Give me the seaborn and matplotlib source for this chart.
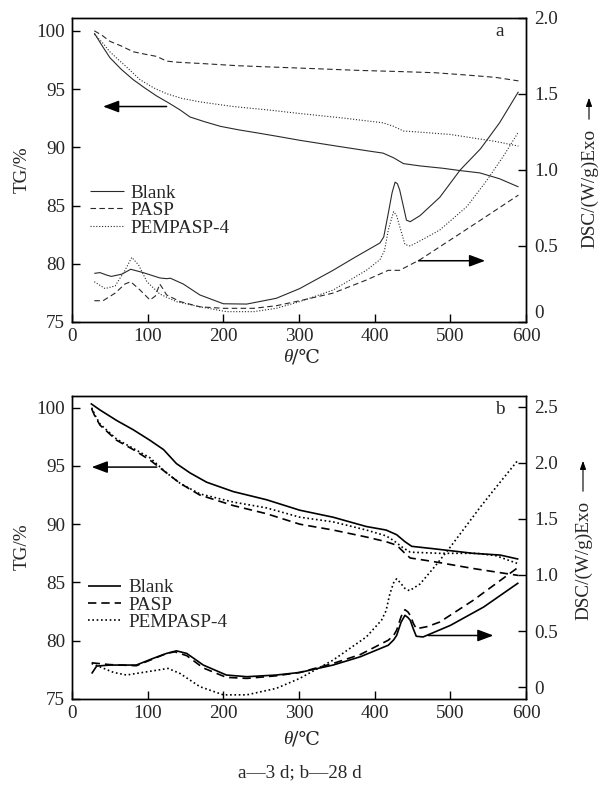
import matplotlib
matplotlib.use("Agg")
import matplotlib.pyplot as plt
import seaborn as sns

# ---- panel a (3 d) ----
# TG curves (left axis, %)
blank_tg_t_a = [29.5, 40, 50, 65, 81, 96, 112, 128, 143, 156, 175, 196, 220, 248, 275, 301,
                350, 390, 411, 425, 438, 460, 490, 513, 539, 565, 590]
blank_tg_a = [99.8, 98.7, 97.7, 96.7, 95.8, 95.1, 94.4, 93.8, 93.2, 92.6, 92.2, 91.8, 91.5, 91.2, 90.9, 90.6,
              90.1, 89.7, 89.5, 89.1, 88.6, 88.4, 88.2, 88.0, 87.8, 87.3, 86.6]
pasp_tg_t_a = [29.5, 40, 50, 65, 81, 96, 112, 125, 140, 169, 220, 301, 380, 434, 480, 522, 560, 590]
pasp_tg_a = [100.0, 99.6, 99.1, 98.7, 98.2, 98.0, 97.8, 97.4, 97.3, 97.2, 97.0, 96.8, 96.6, 96.5, 96.4, 96.2,
             96.0, 95.7]
pem_tg_t_a = [29.5, 40, 50, 60, 72, 90, 108, 125, 145, 169, 213, 260, 301, 360, 411, 425, 438, 460, 500,
              530, 560, 590]
pem_tg_a = [99.7, 99.0, 98.2, 97.6, 96.9, 95.8, 95.1, 94.6, 94.2, 93.9, 93.5, 93.2, 92.9, 92.5, 92.1, 91.8,
            91.4, 91.3, 91.1, 90.8, 90.5, 90.1]

# DSC curves (right axis, W/g)
blank_dsc_t_a = [29.5, 37, 45, 52, 66, 77.6, 94, 116, 125, 130, 147, 169, 200, 231, 270, 301, 345, 372,
                 407, 412, 418, 423, 427, 430, 433, 438, 442, 447, 460, 486, 513, 540, 565, 590]
blank_dsc_a = [0.32, 0.325, 0.31, 0.30, 0.315, 0.347, 0.325, 0.29, 0.285, 0.288, 0.25, 0.178, 0.12, 0.118,
               0.156, 0.22, 0.34, 0.42, 0.52, 0.56, 0.715, 0.85, 0.92, 0.91, 0.87, 0.76, 0.67, 0.66, 0.70,
               0.82, 1.0, 1.14, 1.31, 1.515]
pasp_dsc_t_a = [29.5, 41, 57, 70, 77.6, 90, 103, 110, 116, 120, 125, 143, 169, 200, 240, 270, 301, 345,
                389, 418, 433, 460, 500, 543, 590]
pasp_dsc_a = [0.14, 0.14, 0.19, 0.25, 0.265, 0.21, 0.145, 0.17, 0.25, 0.22, 0.178, 0.134, 0.10, 0.09, 0.09,
              0.107, 0.14, 0.19, 0.276, 0.34, 0.34, 0.41, 0.54, 0.68, 0.835]
pem_dsc_t_a = [29.5, 43.6, 57, 70, 79, 88, 99, 116, 138, 169, 204, 240, 270, 301, 345, 389, 407, 413, 418,
               425, 429, 433, 440, 447, 466, 486, 522, 548, 570, 590]
pem_dsc_a = [0.265, 0.22, 0.237, 0.34, 0.425, 0.375, 0.265, 0.184, 0.134, 0.10, 0.068, 0.068, 0.09, 0.134,
             0.21, 0.34, 0.41, 0.47, 0.605, 0.726, 0.70, 0.63, 0.51, 0.50, 0.55, 0.605, 0.76, 0.93, 1.09, 1.25]

# ---- panel b (28 d) ----
blank_tg_t_b = [24.7, 37, 59, 81, 103, 121, 138, 156, 178, 213, 257, 301, 345, 389, 415, 429, 440, 449,
                477, 530, 566, 590]
blank_tg_b = [100.36, 99.8, 98.9, 98.1, 97.2, 96.4, 95.2, 94.4, 93.6, 92.8, 92.1, 91.2, 90.6, 89.8, 89.5,
              89.1, 88.5, 88.1, 87.9, 87.5, 87.35, 87.0]
pasp_tg_t_b = [26, 30, 37, 59, 81, 103, 125, 143, 169, 213, 257, 301, 345, 389, 415, 429, 440, 447, 477,
               530, 590]
pasp_tg_b = [99.9, 99.3, 98.5, 97.2, 96.4, 95.5, 94.4, 93.5, 92.5, 91.6, 90.9, 90.0, 89.5, 88.9, 88.5,
             88.2, 87.5, 87.1, 86.8, 86.2, 85.6]
pem_tg_t_b = [26, 30, 37, 59, 81, 103, 125, 143, 169, 213, 257, 301, 345, 389, 415, 425, 437, 447, 486,
              535, 560, 590]
pem_tg_b = [100.0, 99.4, 98.6, 97.3, 96.5, 95.7, 94.4, 93.5, 92.6, 91.9, 91.4, 90.6, 90.2, 89.5, 89.0,
            88.6, 88.0, 87.6, 87.5, 87.5, 87.3, 86.6]

blank_dsc_t_b = [26, 32.6, 50, 85, 107, 125, 138, 151.6, 173.5, 204, 231, 270, 301, 345, 381, 418, 425,
                 429, 435, 440, 444, 447, 451, 455, 464, 500, 544, 590]
blank_dsc_b = [0.12, 0.187, 0.196, 0.196, 0.255, 0.30, 0.323, 0.30, 0.196, 0.107, 0.092, 0.107, 0.13,
               0.196, 0.27, 0.373, 0.42, 0.46, 0.58, 0.64, 0.62, 0.596, 0.52, 0.453, 0.447, 0.55, 0.714, 0.93]
pasp_dsc_t_b = [26, 50, 85, 107, 125, 136, 151.6, 173.5, 204, 231, 270, 301, 345, 381, 418, 425, 429,
                435, 440, 444, 447, 451, 455, 470, 486, 530, 590]
pasp_dsc_b = [0.216, 0.20, 0.19, 0.25, 0.30, 0.314, 0.28, 0.17, 0.086, 0.077, 0.10, 0.13, 0.21, 0.29,
              0.418, 0.46, 0.507, 0.63, 0.69, 0.67, 0.64, 0.57, 0.52, 0.54, 0.58, 0.773, 1.07]
pem_dsc_t_b = [26, 37, 55, 72, 99, 127, 143, 169, 200, 231, 270, 301, 345, 389, 409, 415, 420, 425, 429,
               434, 440, 446, 460, 480, 500, 520, 540, 560, 590]
pem_dsc_b = [0.21, 0.18, 0.13, 0.107, 0.136, 0.166, 0.12, 0.003, -0.07, -0.07, -0.012, 0.077, 0.24, 0.447,
             0.596, 0.68, 0.83, 0.93, 0.966, 0.93, 0.88, 0.86, 0.92, 1.08, 1.25, 1.43, 1.61, 1.78, 2.03]

series_names = ["Blank", "PASP", "PEMPASP-4"]
x_ticks = [0, 100, 200, 300, 400, 500, 600]
tg_ticks = [75, 80, 85, 90, 95, 100]
dsc_ticks_a = [0, 0.5, 1.0, 1.5, 2.0]
dsc_labels_a = ["0", "0.5", "1.0", "1.5", "2.0"]
dsc_ticks_b = [0, 0.5, 1.0, 1.5, 2.0, 2.5]
dsc_labels_b = ["0", "0.5", "1.0", "1.5", "2.0", "2.5"]

sns.set_style("ticks")
plt.rcParams['font.family'] = ['Liberation Serif', 'DejaVu Serif', 'DejaVu Sans']

FS = 13.8
W, H = 598, 792
fig = plt.figure(figsize=(W / 100, H / 100), dpi=100)


def px(x, y):
    return x / W, 1 - y / H


styles = [(0, ()), (0, (5, 3)), (0, (1, 1.6))]


def draw_panel(rect, tg_data, dsc_data, tg_lim, dsc_lim, dsc_ticks, dsc_labels, lw, color,
               letter, leg_anchor, arrow_l, arrow_r, lift_zero):
    ax = fig.add_axes(rect)
    ax2 = ax.twinx()
    for (t, v), name, ls in zip(tg_data, series_names, styles):
        sns.lineplot(x=t, y=v, ax=ax, color=color, linewidth=lw, linestyle=ls, label=name, legend=False)
    for (t, v), ls in zip(dsc_data, styles):
        sns.lineplot(x=t, y=v, ax=ax2, color=color, linewidth=lw, linestyle=ls, legend=False)

    ax.set_xlim(0, 600)
    ax.set_ylim(*tg_lim)
    ax2.set_ylim(*dsc_lim)
    ax.set_xticks(x_ticks)
    ax.set_yticks(tg_ticks)
    ax2.set_yticks(dsc_ticks)
    ax2.set_yticklabels(dsc_labels)
    if lift_zero:
        ax2.get_yticklabels()[0].set_va("bottom")
    ax.set_xlabel("")
    ax.set_ylabel("")
    ax2.set_ylabel("")
    for a in (ax, ax2):
        a.tick_params(direction="in", length=6, width=1, labelsize=FS, color="black")
        for s in a.spines.values():
            s.set_linewidth(1.0)
            s.set_color("black")
    ax.tick_params(axis="y", pad=5)
    ax2.tick_params(axis="y", pad=6)
    ax.tick_params(axis="x", pad=4)

    ax.legend(handles=ax.get_lines(), labels=series_names, loc="center left",
              bbox_to_anchor=leg_anchor, frameon=False, fontsize=FS, handlelength=1.75,
              handletextpad=0.35, labelspacing=0.0, borderpad=0, borderaxespad=0)

    ax.text(0.943, 0.955, letter, transform=ax.transAxes, fontsize=FS, ha="center", va="center")

    ap = dict(arrowstyle="-|>,head_length=0.8,head_width=0.3", color="black", lw=1.1,
              mutation_scale=12, shrinkA=0, shrinkB=0)
    ax.annotate("", xy=arrow_l[1], xytext=arrow_l[0], arrowprops=ap)
    ax2.annotate("", xy=arrow_r[1], xytext=arrow_r[0], arrowprops=ap)
    return ax, ax2


ax_a = draw_panel(
    [72 / W, 1 - 322 / H, 454 / W, 304 / H],
    [(blank_tg_t_a, blank_tg_a), (pasp_tg_t_a, pasp_tg_a), (pem_tg_t_a, pem_tg_a)],
    [(blank_dsc_t_a, blank_dsc_a), (pasp_dsc_t_a, pasp_dsc_a), (pem_dsc_t_a, pem_dsc_a)],
    (75, 101.1), (0, 2.0), dsc_ticks_a, dsc_labels_a, 0.8, "#2a2a2a", "a",
    (0.04, 0.367), ((125, 93.5), (41, 93.5)), ((458, 0.403), (546, 0.403)), True)

ax_b = draw_panel(
    [72 / W, 1 - 699 / H, 454 / W, 303 / H],
    [(blank_tg_t_b, blank_tg_b), (pasp_tg_t_b, pasp_tg_b), (pem_tg_t_b, pem_tg_b)],
    [(blank_dsc_t_b, blank_dsc_b), (pasp_dsc_t_b, pasp_dsc_b), (pem_dsc_t_b, pem_dsc_b)],
    (75, 101.0), (-0.107, 2.598), dsc_ticks_b, dsc_labels_b, 1.2, "black", "b",
    (0.035, 0.31), ((112, 94.9), (26, 94.9)), ((471, 0.46), (557, 0.46)), False)

# axis titles
for y in (170, 547):
    fig.text(*px(22, y), "TG/%", rotation=90, ha="center", va="center", fontsize=FS)
for y in (358, 740):
    fig.text(*px(292, y), "θ", style="italic", ha="right", va="center", fontsize=FS)
    fig.text(*px(292, y), "/℃", ha="left", va="center", fontsize=FS,
             family=["DejaVu Serif", "DejaVu Sans"])

# right axis titles with the Exo arrow
for xx, yc, y0, y1 in ((590, 188, 122, 95), (584, 560, 494, 458)):
    fig.text(*px(xx, yc), "DSC/(W/g)Exo", rotation=90, ha="center", va="center", fontsize=FS)
    fig.patches.append(matplotlib.patches.FancyArrowPatch(
        px(xx - 1, y0), px(xx - 1, y1), transform=fig.transFigure,
        arrowstyle="-|>,head_length=0.5,head_width=0.18", mutation_scale=10, lw=0.8, color="black"))

fig.text(*px(300, 773), "a—3 d; b—28 d", ha="center", va="center", fontsize=FS)

plt.savefig("out.png", dpi=100)
plt.close()
